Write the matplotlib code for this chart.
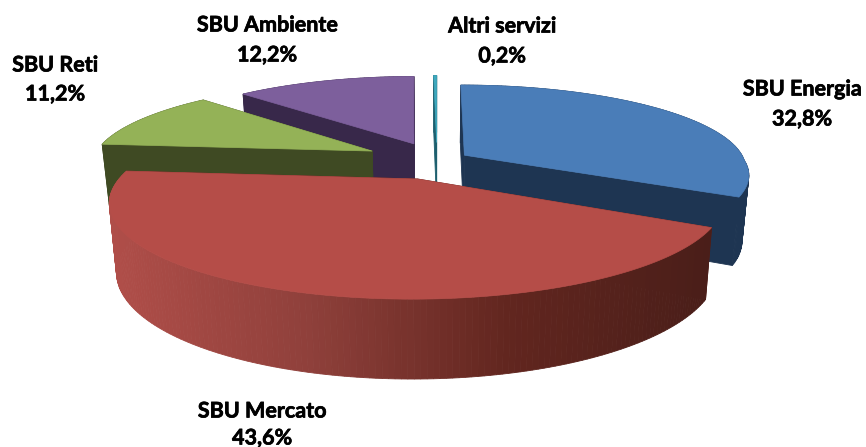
import numpy as np
import matplotlib
matplotlib.use("Agg")
import matplotlib.pyplot as plt
import matplotlib.patheffects as pe
from matplotlib.colors import LinearSegmentedColormap
from matplotlib.patches import Polygon

# slices, clockwise from the top of the pie
labels = ["SBU Energia", "SBU Mercato", "SBU Reti", "SBU Ambiente", "Altri servizi"]
values = [32.8, 43.6, 11.2, 12.2, 0.2]

top_colors = ["#4A7DB8", "#B54D48", "#94B257", "#7D5F9C", "#3FA9BE"]
side_colors = ["#1E3552", None, "#3F4A23", "#38284A", "#1D5F6E"]
explode = [0.115, 0.23, 0.26, 0.22, 0.22]
radius = [1.0, 1.015, 1.0, 1.0, 1.0]
draw_order = [3, 4, 0, 2, 1]  # back to front

label_pos = [(802, 89, 802, 119), (262, 411, 262, 438), (55, 65, 55, 94),
             (267, 25, 267, 55), (502, 26, 502, 56)]

CX, CY = 437, 160
RX, RY = 280, 82
DEPTH = 64

mercato_side = LinearSegmentedColormap.from_list(
    "mercato", ["#B04E49", "#8F403B", "#62261F", "#4A1E19"])


def project(x, y, z=0.0):
    x, y = np.asarray(x, float), np.asarray(y, float)
    p = np.where(y > 0, 0.15, 0.22)
    s = 1 / (1 + p * y)
    # the walls lean slightly inwards going down
    return CX + RX * x * s * (1 - 0.022 * z), CY - RY * y * s + DEPTH * s ** 0.7 * z


def wall(ax, wx, wy, color):
    px, py = project(wx, wy)
    qx, qy = project(wx, wy, 1.0)
    xy = np.column_stack([np.r_[px, qx[::-1]], np.r_[py, qy[::-1]]])
    ax.add_patch(Polygon(xy, facecolor=color, edgecolor=color, lw=0.6))


plt.rcParams["font.family"] = ["Lato", "DejaVu Sans"]
fig = plt.figure(figsize=(8.66, 4.47), dpi=100)
ax = fig.add_axes([0, 0, 1, 1])
ax.set_xlim(0, 866)
ax.set_ylim(447, 0)
ax.axis("off")

edges = np.cumsum([0] + values) / sum(values) * 2 * np.pi

for i in draw_order:
    a0, a1 = edges[i], edges[i + 1]
    mid = (a0 + a1) / 2
    ox, oy = explode[i] * np.sin(mid), explode[i] * np.cos(mid)
    arc = np.linspace(a0, a1, max(int((a1 - a0) * 60), 3))
    ax_x = ox + radius[i] * np.sin(arc)
    ax_y = oy + radius[i] * np.cos(arc)

    # straight walls behind the rim, then the rim, then the top face
    side = side_colors[i] or "#5A231E"
    wall(ax, [ox, ax_x[-1]], [oy, ax_y[-1]], side)
    wall(ax, [ox, ax_x[0]], [oy, ax_y[0]], side)
    for j in np.argsort(-ax_y[:-1]):
        c = side_colors[i]
        if c is None:
            px, _ = project(ax_x[j], ax_y[j])
            c = mercato_side(np.clip((px - 110) / 600, 0, 1))
        wall(ax, ax_x[j:j + 2], ax_y[j:j + 2], c)

    tx, ty = project(np.r_[ox, ax_x], np.r_[oy, ax_y])
    ax.add_patch(Polygon(np.column_stack([tx, ty]), facecolor=top_colors[i],
                         edgecolor=top_colors[i], lw=0.5))

# Lato bold is a bit lighter than the reference, thicken it a little
heavy = [pe.withStroke(linewidth=0.5, foreground="black")]
for name, val, (x1, y1, x2, y2) in zip(labels, values, label_pos):
    ax.text(x1, y1, name, ha="center", va="center", fontsize=15.5,
            fontweight="bold", path_effects=heavy)
    ax.text(x2, y2, f"{val:.1f}%".replace(".", ","), ha="center", va="center",
            fontsize=15.5, fontweight="bold", path_effects=heavy)

fig.savefig("out.png", dpi=100)
